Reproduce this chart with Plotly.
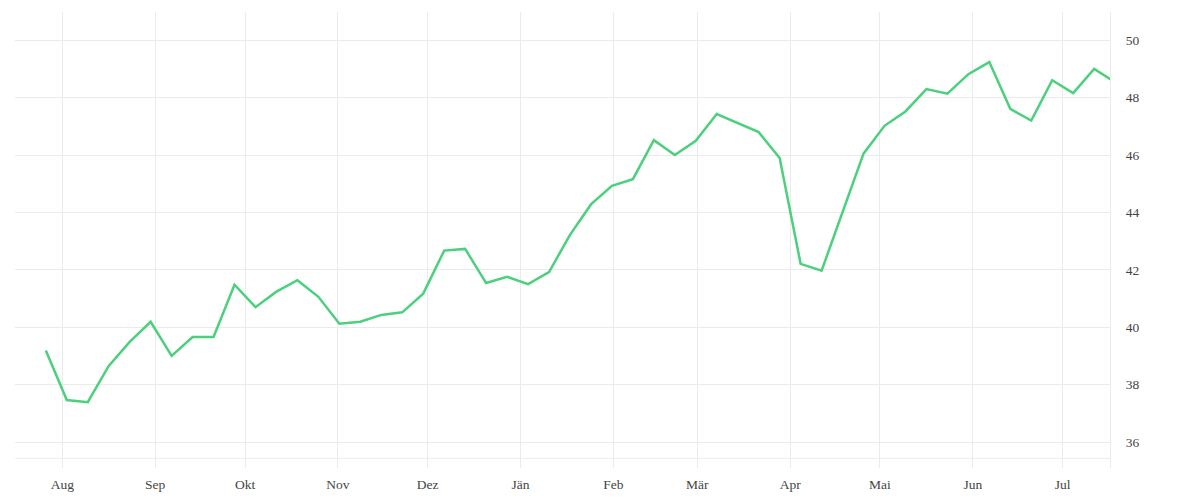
import plotly.graph_objects as go
import pandas as pd

# woechentliche Werte
dates = pd.date_range("2018-07-26 12:00", periods=52, freq="7D")
values = [39.19, 37.46, 37.39, 38.65, 39.49, 40.19, 39.00, 39.66, 39.66, 41.48,
          40.70, 41.24, 41.64, 41.06, 40.12, 40.19, 40.43, 40.52, 41.17, 42.67,
          42.73, 41.54, 41.76, 41.50, 41.92, 43.22, 44.28, 44.93, 45.16, 46.52,
          46.00, 46.50, 47.43, 47.11, 46.80, 45.90, 42.21, 41.97, 43.99, 46.05,
          47.02, 47.52, 48.30, 48.14, 48.82, 49.24, 47.61, 47.20, 48.61, 48.16,
          49.00, 48.54]

tick_dates = pd.date_range("2018-08-01", periods=12, freq="MS")
tick_labels = ["Aug", "Sep", "Okt", "Nov", "Dez", "Jän", "Feb", "Mär", "Apr", "Mai", "Jun", "Jul"]
y_ticks = [36, 38, 40, 42, 44, 46, 48, 50]

grid = "#ebebeb"

fig = go.Figure()
fig.add_trace(go.Scatter(x=dates, y=values, mode="lines",
                         line=dict(color="#4cd07d", width=2.5),
                         hoverinfo="x+y", showlegend=False))

fig.update_layout(
    width=1200, height=500,
    margin=dict(l=7, r=98, t=4, b=40),
    paper_bgcolor="white", plot_bgcolor="white",
    font=dict(family="Liberation Serif, DejaVu Serif, serif", size=13.5, color="#444444"),
    xaxis=dict(range=["2018-07-16 05:00", "2019-07-16 19:00"],
               tickvals=tick_dates, ticktext=tick_labels,
               showgrid=True, gridcolor=grid, gridwidth=1,
               zeroline=False, showline=False, ticks="",
               ticklabelstandoff=6),
    yaxis=dict(side="right", range=[35.094, 50.986], tickvals=y_ticks,
               showgrid=True, gridcolor=grid, gridwidth=1,
               zeroline=False, showline=True, linecolor=grid, linewidth=1,
               ticks="", ticklabelstandoff=12),
)

# untere Linie
fig.add_shape(type="line", xref="paper", yref="paper", x0=0, x1=1, y0=0.0213, y1=0.0213,
              line=dict(color=grid, width=1), layer="below")

fig.write_html("out.html")
